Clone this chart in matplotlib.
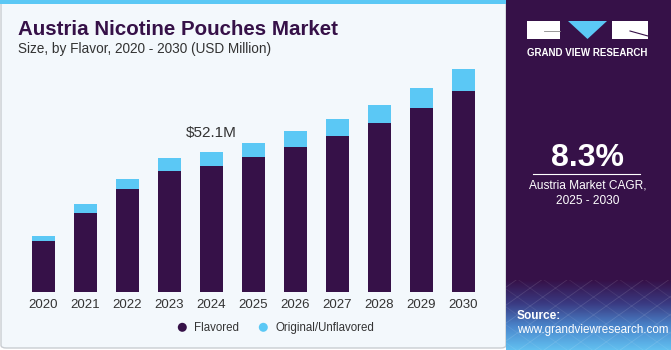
"""
Austria nicotine pouches market, stacked bars by flavor, 2020-2030.
"""
import matplotlib
matplotlib.use("Agg")
import matplotlib.pyplot as plt
from matplotlib.patches import Rectangle, Polygon, Ellipse, FancyBboxPatch
import numpy as np

years = ["2020", "2021", "2022", "2023", "2024", "2025", "2026", "2027", "2028", "2029", "2030"]
flavored = [19.0, 29.5, 38.2, 45.0, 47.0, 50.2, 53.8, 58.0, 63.0, 68.5, 74.8]
unflavored = [1.9, 3.2, 3.9, 4.7, 5.1, 5.2, 6.0, 6.3, 6.7, 7.3, 8.1]
series_names = ["Flavored", "Original/Unflavored"]
callout_year = "2024"
callout_text = "$52.1M"
cagr = "8.3%"

W, H = 671, 350
PURPLE = "#361148"
BLUE = "#5BC8F5"
BG = "#F3F8FC"
FONT = "Liberation Sans"

def fx(x):
    return x / W

def fy(y):
    return 1 - y / H

fig = plt.figure(figsize=(W / 100, H / 100), dpi=100)
fig.patch.set_facecolor("white")

# left panel background + border
fig.patches.append(FancyBboxPatch((fx(1), fy(348)), fx(505), 347 / H, boxstyle="round,pad=0,rounding_size=0.008",
                                  transform=fig.transFigure, facecolor=BG, edgecolor="#C9CDD2", linewidth=1.0))
fig.patches.append(Rectangle((0, fy(4)), fx(506), 4 / H, transform=fig.transFigure, facecolor=BLUE, edgecolor="none"))

# right panel
fig.patches.append(Rectangle((fx(506), 0), fx(165), 1, transform=fig.transFigure, facecolor=PURPLE, edgecolor="none"))
grad_ax = fig.add_axes([fx(506), 0, fx(165), 70 / H])
grad_ax.set_zorder(2)
grad = np.linspace(0, 1, 100).reshape(-1, 1)
cmap = matplotlib.colors.LinearSegmentedColormap.from_list("g", [PURPLE, "#3A3A82", "#4A86CC", "#62C0F0"])
grad_ax.imshow(grad, aspect="auto", cmap=cmap, extent=[0, 1, 0, 1])
for k in np.linspace(-1, 1, 14):
    grad_ax.plot([k, k + 0.6], [0, 1], color="white", alpha=0.12, lw=0.6)
    grad_ax.plot([k + 0.6, k], [0, 1], color="white", alpha=0.08, lw=0.6)
grad_ax.set_xlim(0, 1)
grad_ax.set_ylim(0, 1)
grad_ax.axis("off")

# logo
fig.patches.append(Rectangle((fx(527), fy(39)), fx(33), 18 / H, transform=fig.transFigure, facecolor="white", edgecolor="none"))
fig.patches.append(Rectangle((fx(612), fy(39)), fx(36), 18 / H, transform=fig.transFigure, facecolor="white", edgecolor="none"))
fig.patches.append(Polygon([(fx(568), fy(21)), (fx(607), fy(21)), (fx(587.5), fy(39))], transform=fig.transFigure,
                           facecolor=BLUE, edgecolor="none"))
fig.lines.append(plt.Line2D([fx(544), fx(560)], [fy(31), fy(31)], transform=fig.transFigure, color="#888888", lw=0.6))
fig.lines.append(plt.Line2D([fx(630), fx(648)], [fy(31), fy(36)], transform=fig.transFigure, color=PURPLE, lw=0.8))
fig.text(fx(587.5), fy(56), "GRAND VIEW RESEARCH", color="white", fontsize=7.0, fontweight="bold",
         ha="center", va="baseline", family=FONT)

# CAGR block
fig.text(fx(587.5), fy(166), cagr, color="white", fontsize=23, fontweight="bold", ha="center", va="baseline", family=FONT)
fig.lines.append(plt.Line2D([fx(533), fx(640)], [fy(173.5), fy(173.5)], transform=fig.transFigure, color="white", lw=0.8))
fig.text(fx(587.5), fy(189), "Austria Market CAGR,", color="white", fontsize=8.6, ha="center", va="baseline", family=FONT)
fig.text(fx(587.5), fy(204), "2025 - 2030", color="white", fontsize=8.6, ha="center", va="baseline", family=FONT)
fig.text(fx(517), fy(319), "Source:", color="white", fontsize=8.6, fontweight="bold", ha="left", va="baseline",
         family=FONT, zorder=5)
fig.text(fx(517), fy(333), "www.grandviewresearch.com", color="white", fontsize=8.4, ha="left", va="baseline",
         family=FONT, zorder=5)

# titles
fig.text(fx(18), fy(35), "Austria Nicotine Pouches Market", color=PURPLE, fontsize=14.8, fontweight="bold",
         ha="left", va="baseline", family=FONT)
fig.text(fx(18), fy(53), "Size, by Flavor, 2020 - 2030 (USD Million)", color="#333333", fontsize=9.8,
         ha="left", va="baseline", family=FONT)

# bar chart
step = 42.0
x0 = 43.3
left_px = x0 - 0.65 * step
right_px = x0 + 10.65 * step
ax = fig.add_axes([fx(left_px), fy(292), (right_px - left_px) / W, (292 - 50) / H])
ax.set_zorder(2)
ax.set_facecolor("none")
x = np.arange(len(years))
ax.bar(x, flavored, width=0.555, color=PURPLE, edgecolor="none", label=series_names[0])
ax.bar(x, unflavored, bottom=flavored, width=0.555, color=BLUE, edgecolor="none", label=series_names[1])
ax.set_xlim(-0.65, 10.65)
ax.set_ylim(0, 242 * 52.1 / 140)
ax.set_xticks(x)
ax.set_xticklabels(years, fontsize=9.5, color="#333333", family=FONT)
ax.tick_params(axis="x", length=0, pad=5)
ax.set_yticks([])
for s in ax.spines.values():
    s.set_visible(False)

i = years.index(callout_year)
ax.annotate(callout_text, (x[i], flavored[i] + unflavored[i]), xytext=(0, 9), textcoords="offset points",
            ha="center", va="bottom", fontsize=11, color="#333333", family=FONT)

# legend
fig.patches.append(Ellipse((fx(182.3), fy(327.3)), 9 / W, 9 / H, transform=fig.transFigure, facecolor=PURPLE, edgecolor="none"))
fig.patches.append(Ellipse((fx(263.3), fy(327.3)), 9 / W, 9 / H, transform=fig.transFigure, facecolor=BLUE, edgecolor="none"))
fig.text(fx(194.3), fy(331), series_names[0], fontsize=8.3, color="#333333", ha="left", va="baseline", family=FONT)
fig.text(fx(275.7), fy(331), series_names[1], fontsize=8.3, color="#333333", ha="left", va="baseline", family=FONT)

fig.savefig("out.png", dpi=100, facecolor=fig.get_facecolor())
